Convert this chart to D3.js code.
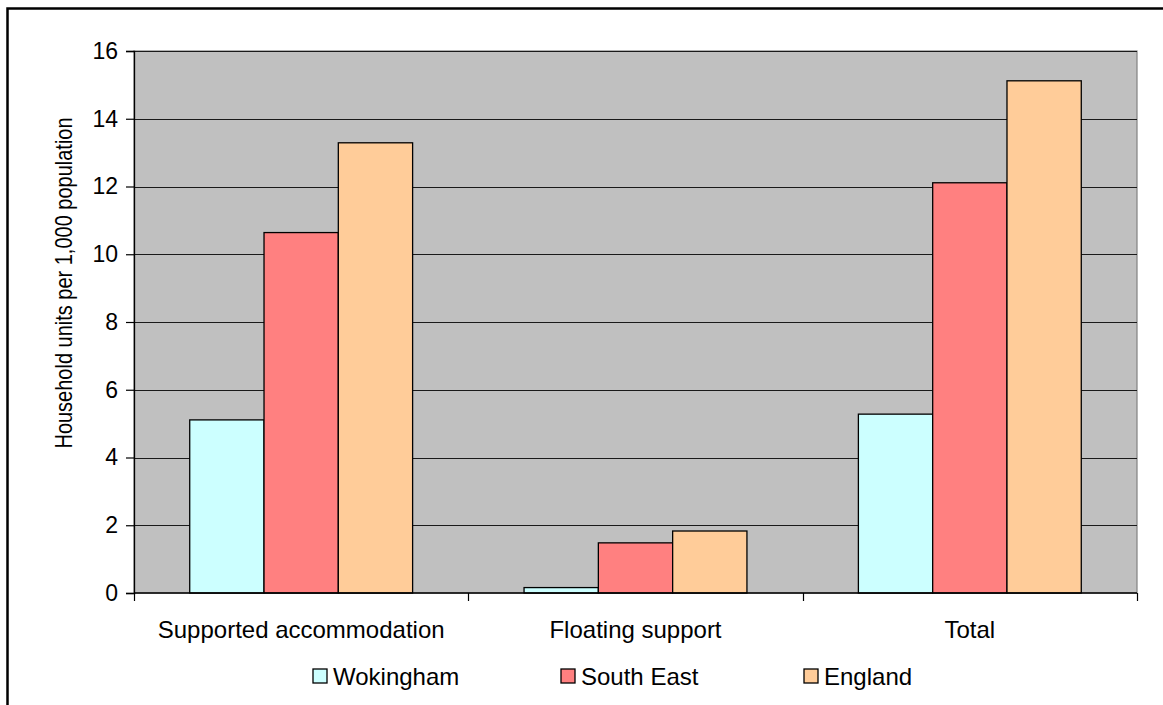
<!DOCTYPE html>
<html>
<head>
<meta charset="utf-8">
<script src="https://cdn.jsdelivr.net/npm/d3@7"></script>
<style>
  html, body { margin: 0; padding: 0; background: #fff; }
  svg { display: block; font-family: Arial, "Liberation Sans", sans-serif; }
</style>
</head>
<body>
<svg id="chart" width="1163" height="705"></svg>
<script>
// Household units per 1,000 population, by type of support
const categories = ["Supported accommodation", "Floating support", "Total"];
const seriesNames = ["Wokingham", "South East", "England"];
const wokingham = [5.11, 0.16, 5.28];
const southEast = [10.64, 1.48, 12.11];
const england = [13.29, 1.83, 15.12];
const yTicks = [0, 2, 4, 6, 8, 10, 12, 14, 16];
const colors = ["#CCFFFF", "#FF8080", "#FFCC99"];

const seriesValues = [wokingham, southEast, england];

const svg = d3.select("#chart");
const W = 1163, H = 705;

// outer chart frame
svg.append("rect")
  .attr("x", 7.5).attr("y", 8.5)
  .attr("width", W).attr("height", H)
  .attr("fill", "#fff").attr("stroke", "#000").attr("stroke-width", 2.5);

const plot = { left: 134, right: 1137, top: 51, bottom: 593 };

const x0 = d3.scaleBand()
  .domain(categories)
  .range([plot.left, plot.right])
  .paddingInner(0).paddingOuter(0);

// bars fill 3 of 4.5 slots per category (150% gap)
const x1 = d3.scaleBand()
  .domain(seriesNames)
  .range([0, x0.bandwidth()])
  .paddingOuter(0.75).paddingInner(0);

const y = d3.scaleLinear().domain([0, 16]).range([plot.bottom, plot.top]);

// plot background
svg.append("rect")
  .attr("x", plot.left).attr("y", plot.top)
  .attr("width", plot.right - plot.left).attr("height", plot.bottom - plot.top)
  .attr("fill", "#C0C0C0").attr("stroke", "#808080").attr("stroke-width", 1.2);

// horizontal gridlines
svg.append("g")
  .selectAll("line")
  .data(yTicks.filter(t => t > 0))
  .join("line")
  .attr("x1", plot.left).attr("x2", plot.right)
  .attr("y1", d => Math.round(y(d)) + 0.5).attr("y2", d => Math.round(y(d)) + 0.5)
  .attr("stroke", "#1a1a1a").attr("stroke-width", 1.2);

// bars
const groups = svg.append("g")
  .selectAll("g")
  .data(categories)
  .join("g")
  .attr("transform", d => `translate(${x0(d)},0)`);

groups.selectAll("rect")
  .data((c, i) => seriesNames.map((s, j) => ({ s, j, v: seriesValues[j][i] })))
  .join("rect")
  .attr("x", d => x1(d.s))
  .attr("y", d => y(d.v))
  .attr("width", x1.bandwidth())
  .attr("height", d => y(0) - y(d.v))
  .attr("fill", d => colors[d.j])
  .attr("stroke", "#000").attr("stroke-width", 1.3);

// y axis
const yAxis = d3.axisLeft(y).tickValues(yTicks).tickSize(8).tickPadding(8).tickFormat(d3.format("d"));
const gy = svg.append("g").attr("transform", `translate(${plot.left},0)`).call(yAxis);
gy.select(".domain").attr("stroke", "#000").attr("stroke-width", 1.3);
gy.selectAll(".tick line").attr("stroke", "#000").attr("stroke-width", 1.2);
gy.selectAll(".tick text").attr("font-size", 23).attr("fill", "#000")
  .attr("font-family", "Arial, 'Liberation Sans', sans-serif");

// x axis: ticks at category boundaries
const xAxisG = svg.append("g");
xAxisG.append("line")
  .attr("x1", plot.left).attr("x2", plot.right)
  .attr("y1", plot.bottom).attr("y2", plot.bottom)
  .attr("stroke", "#000").attr("stroke-width", 1.5);
const boundaries = categories.map(c => x0(c)).concat([x0(categories[categories.length - 1]) + x0.bandwidth()]);
xAxisG.selectAll("line.tick")
  .data(boundaries)
  .join("line").attr("class", "tick")
  .attr("x1", d => Math.round(d) + 0.5).attr("x2", d => Math.round(d) + 0.5)
  .attr("y1", plot.bottom).attr("y2", plot.bottom + 8)
  .attr("stroke", "#000").attr("stroke-width", 1.2);
xAxisG.selectAll("text")
  .data(categories)
  .join("text")
  .attr("x", d => x0(d) + x0.bandwidth() / 2)
  .attr("y", 638)
  .attr("text-anchor", "middle")
  .attr("font-size", 24)
  .text(d => d);

// y axis title (glyphs slightly widened)
svg.append("text")
  .attr("transform", "translate(72,283) rotate(-90) scale(1,1.17)")
  .attr("text-anchor", "middle")
  .attr("font-size", 20)
  .text("Household units per 1,000 population");

// legend
const legendX = [313, 561, 804];
const legend = svg.append("g")
  .selectAll("g")
  .data(seriesNames)
  .join("g")
  .attr("transform", (d, i) => `translate(${legendX[i]},676)`);
legend.append("rect")
  .attr("x", 0).attr("y", -7).attr("width", 14).attr("height", 14)
  .attr("fill", (d, i) => colors[i]).attr("stroke", "#000").attr("stroke-width", 1.3);
legend.append("text")
  .attr("x", 20).attr("y", 0).attr("dy", "0.36em")
  .attr("font-size", 24)
  .text(d => d);
</script>
</body>
</html>
